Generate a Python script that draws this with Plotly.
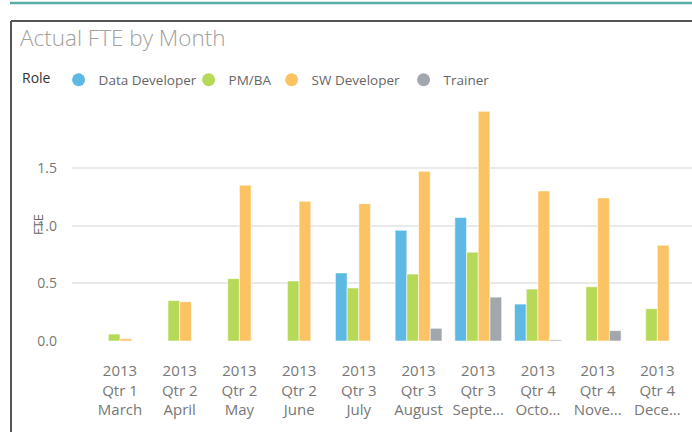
import plotly.graph_objects as go

months = ["2013<br>Qtr 1<br>March", "2013<br>Qtr 2<br>April", "2013<br>Qtr 2<br>May",
          "2013<br>Qtr 2<br>June", "2013<br>Qtr 3<br>July", "2013<br>Qtr 3<br>August",
          "2013<br>Qtr 3<br>Septe...", "2013<br>Qtr 4<br>Octo...", "2013<br>Qtr 4<br>Nove...",
          "2013<br>Qtr 4<br>Dece..."]

data_developer = [None, None, None, None, 0.59, 0.96, 1.07, 0.32, None, None]
pm_ba = [0.06, 0.35, 0.54, 0.52, 0.46, 0.58, 0.77, 0.45, 0.47, 0.28]
sw_developer = [0.02, 0.34, 1.35, 1.21, 1.19, 1.47, 1.99, 1.30, 1.24, 0.83]
trainer = [None, None, None, None, None, 0.11, 0.38, 0.01, 0.09, None]

roles = ["Data Developer", "PM/BA", "SW Developer", "Trainer"]
colors = ["#5db9e4", "#b6d957", "#fbc363", "#a1a7ac"]
series = [data_developer, pm_ba, sw_developer, trainer]
# legend entry widths so the dots land where the original has them
legend_widths = [85, 38, 87, None]

y_ticks = [0, 0.5, 1.0, 1.5]
y_tick_text = ["0.0", "0.5", "1.0", "1.5"]

# plot area in pixels: left 72, right 692, top 100, bottom 341
W, H = 692, 432
L, R, T, B = 72, 692, 100, 341


def px_x(p):
    return (p - L) / (R - L)


def px_y(p):
    return (B - p) / (B - T)


fig = go.Figure()

for name, vals, c in zip(roles, series, colors):
    fig.add_trace(go.Bar(x=months, y=vals, name=name, marker_color=c,
                         marker_line=dict(color="rgba(255,255,255,0.7)", width=0.8),
                         showlegend=False))

# round legend markers like the original
for name, c, lw in zip(roles, colors, legend_widths):
    fig.add_trace(go.Scatter(x=[None], y=[None], mode="markers", name=name,
                             legendwidth=lw,
                             marker=dict(size=13, color=c, symbol="circle")))

fig.update_layout(
    width=W, height=H,
    margin=dict(l=L, r=W - R, t=T, b=H - B, autoexpand=False),
    paper_bgcolor="white", plot_bgcolor="white",
    barmode="group", bargap=0.216, bargroupgap=0,
    font=dict(family="Open Sans", color="#777777", size=14),
    title=dict(text="Actual FTE by Month", x=20 / W, xanchor="left",
               y=1 - 38 / H, yanchor="middle",
               font=dict(family="Open Sans", size=22.5, color="#a0a0a0", weight=300)),
    legend=dict(orientation="h", x=px_x(20), xanchor="left", y=px_y(80), yanchor="middle",
                title=dict(text="Role", font=dict(color="#333333", size=14)),
                font=dict(color="#666666", size=13.5), bgcolor="rgba(0,0,0,0)"),
    xaxis=dict(range=[-0.804, 9.58], showgrid=False, showline=False, zeroline=False,
               ticks="", ticklabelstandoff=19, automargin=False,
               tickfont=dict(size=15, color="#777777")),
    yaxis=dict(range=[0, (B - T) / 115.4], tickvals=y_ticks, ticktext=y_tick_text,
               showgrid=True, gridcolor="#e9e9e9", gridwidth=1.5, zeroline=False,
               showline=False, ticks="", ticklabelstandoff=14, automargin=False,
               tickfont=dict(size=14, color="#777777")),
    annotations=[dict(text="FTE", textangle=-90, xref="paper", yref="paper",
                      x=px_x(38), y=px_y(225), xanchor="center", yanchor="middle",
                      showarrow=False, font=dict(size=13, color="#666666"))],
    shapes=[
        dict(type="line", xref="paper", yref="paper", x0=px_x(10), x1=1, y0=px_y(3), y1=px_y(3),
             line=dict(color="#5aada2", width=2.5)),
        dict(type="line", xref="paper", yref="paper", x0=px_x(11), x1=1, y0=px_y(21), y1=px_y(21),
             line=dict(color="#555555", width=2)),
        dict(type="line", xref="paper", yref="paper", x0=px_x(11), x1=px_x(11), y0=px_y(21),
             y1=px_y(H), line=dict(color="#555555", width=2)),
    ],
)

fig.write_html("out.html", config={"displayModeBar": False},
               post_script="document.body.style.margin='0';document.body.style.overflow='hidden';")
